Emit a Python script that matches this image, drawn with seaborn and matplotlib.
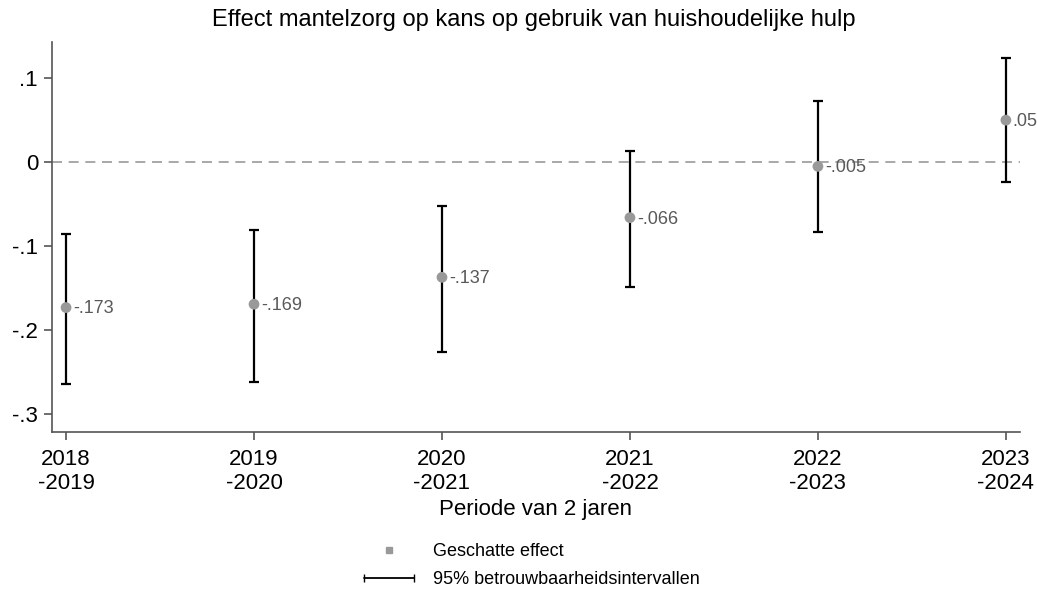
import pandas as pd
import matplotlib
matplotlib.use("Agg")
import matplotlib.pyplot as plt
from matplotlib.lines import Line2D
from matplotlib.legend_handler import HandlerLine2D
import seaborn as sns

# data
periods = ["2018\n-2019", "2019\n-2020", "2020\n-2021", "2021\n-2022", "2022\n-2023", "2023\n-2024"]
effect = [-0.173, -0.169, -0.137, -0.066, -0.005, 0.05]
ci_low = [-0.264, -0.262, -0.226, -0.148, -0.083, -0.024]
ci_high = [-0.086, -0.081, -0.052, 0.013, 0.073, 0.124]
labels = ["-.173", "-.169", "-.137", "-.066", "-.005", ".05"]
yticks = [-0.3, -0.2, -0.1, 0, 0.1]
ytick_labels = ["-.3", "-.2", "-.1", "0", ".1"]

df = pd.DataFrame({"pos": range(len(periods)), "effect": effect,
                   "low": ci_low, "high": ci_high})

sns.set_style("ticks")
plt.rcParams["font.family"] = ["Liberation Sans", "DejaVu Sans"]
plt.rcParams["text.color"] = "black"
plt.rcParams["axes.labelcolor"] = "black"
plt.rcParams["xtick.labelcolor"] = "black"
plt.rcParams["ytick.labelcolor"] = "black"

fig = plt.figure(figsize=(10.37, 5.89), dpi=100)
ax = fig.add_axes([0.0501, 0.2666, 0.9335, 0.6621])

# zero reference line
ax.axhline(0, color="#999999", lw=1.2, ls=(0, (6, 4)), zorder=1)

# confidence intervals
ax.errorbar(df["pos"], df["effect"],
            yerr=[df["effect"] - df["low"], df["high"] - df["effect"]],
            fmt="none", ecolor="black", elinewidth=1.6, capsize=3.6,
            capthick=1.6, zorder=2)

sns.scatterplot(data=df, x="pos", y="effect", color="#999999", s=60,
                edgecolor="none", ax=ax, zorder=3, legend=False)

for x, y, t in zip(df["pos"], df["effect"], labels):
    ax.annotate(t, (x, y), xytext=(5, -1), textcoords="offset points",
                ha="left", va="center", fontsize=13, color="#595959",
                annotation_clip=False)

ax.set_xlim(-0.075, 5.075)
ax.set_ylim(-0.321, 0.143)
ax.set_xticks(range(len(periods)))
ax.set_xticklabels(periods, fontsize=16, linespacing=1.2)
ax.set_yticks(yticks)
ax.set_yticklabels(ytick_labels, fontsize=16)
ax.tick_params(axis="both", length=6, width=1.2, color="#555555", pad=4)
ax.tick_params(axis="x", pad=6)
ax.set_xlabel("Periode van 2 jaren", fontsize=16, labelpad=4)
ax.set_ylabel("")
sns.despine(ax=ax)
for s in ["left", "bottom"]:
    ax.spines[s].set_color("#555555")
    ax.spines[s].set_linewidth(1.2)

fig.suptitle("Effect mantelzorg op kans op gebruik van huishoudelijke hulp",
             fontsize=17, y=0.985, x=0.515)

pt_handle = Line2D([], [], color="#999999", marker="s", markersize=5, ls="none")
ci_handle = Line2D([], [], color="black", lw=1.3, marker="|", markersize=6)
fig.legend([pt_handle, ci_handle],
           ["Geschatte effect", "95% betrouwbaarheidsintervallen"],
           loc="upper center", bbox_to_anchor=(0.51, 0.105),
           frameon=False, fontsize=13, handlelength=3.4, handletextpad=0.7,
           labelspacing=0.6,
           handler_map={pt_handle: HandlerLine2D(numpoints=1),
                        ci_handle: HandlerLine2D(numpoints=2)})

fig.savefig("out.png", dpi=100, facecolor="white")
